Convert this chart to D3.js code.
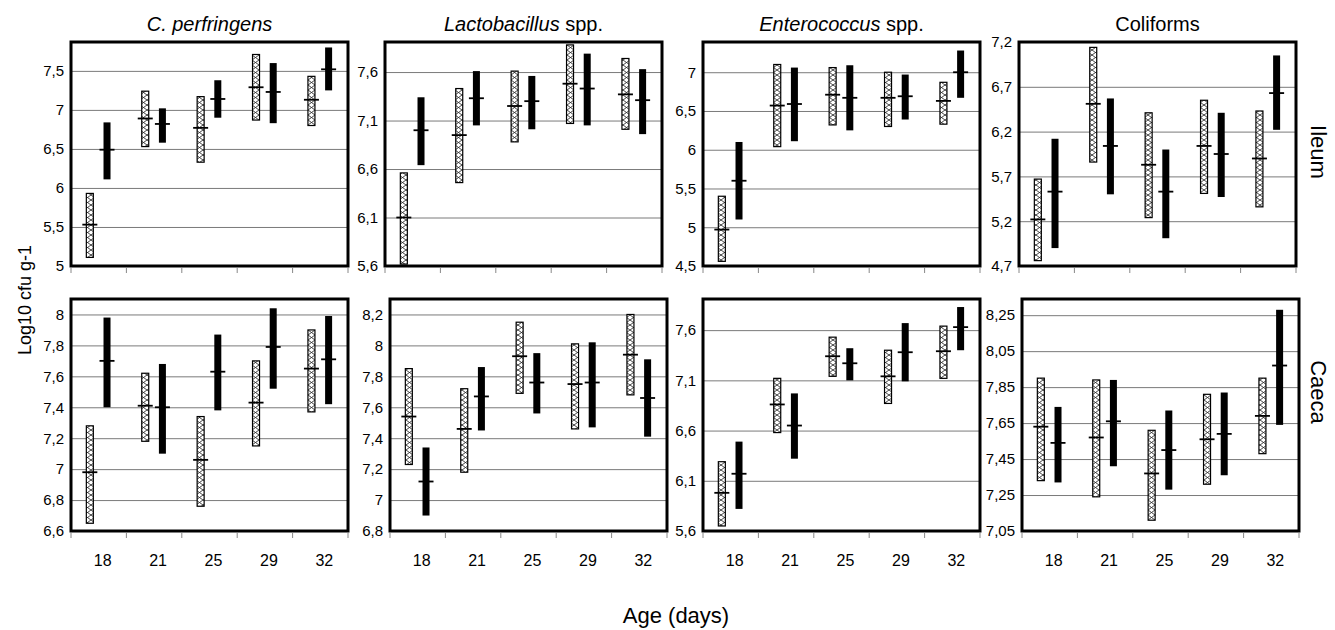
<!DOCTYPE html>
<html>
<head>
<meta charset="utf-8">
<script src="https://cdn.jsdelivr.net/npm/d3@7"></script>
<style>
  body { margin: 0; background: #fff; }
  svg { display: block; }
  text { font-family: "Liberation Sans", Arial, sans-serif; fill: #000; }
</style>
</head>
<body>
<script>
// ages on the x axis, one band each
const ages = ["18", "21", "25", "29", "32"];
const sites = ["Ileum", "Caeca"];

// each entry: [low, mean, high]   A = hatched bar, B = black bar
const perfIleumA = [[5.11, 5.53, 5.93], [6.53, 6.89, 7.24], [6.33, 6.77, 7.17], [6.87, 7.29, 7.71], [6.80, 7.13, 7.43]];
const perfIleumB = [[6.11, 6.49, 6.84], [6.58, 6.82, 7.02], [6.90, 7.14, 7.38], [6.83, 7.23, 7.60], [7.25, 7.52, 7.80]];
const lactoIleumA = [[5.62, 6.10, 6.56], [6.46, 6.95, 7.43], [6.88, 7.25, 7.61], [7.07, 7.48, 7.88], [7.01, 7.37, 7.74]];
const lactoIleumB = [[6.64, 7.00, 7.34], [7.05, 7.33, 7.61], [7.01, 7.30, 7.56], [7.05, 7.43, 7.79], [6.96, 7.31, 7.63]];
const enteroIleumA = [[4.56, 4.97, 5.40], [6.04, 6.57, 7.10], [6.32, 6.71, 7.06], [6.30, 6.67, 7.00], [6.33, 6.63, 6.87]];
const enteroIleumB = [[5.10, 5.60, 6.10], [6.11, 6.59, 7.06], [6.25, 6.67, 7.09], [6.39, 6.69, 6.97], [6.67, 7.00, 7.28]];
const coliIleumA = [[4.76, 5.22, 5.67], [5.86, 6.51, 7.14], [5.24, 5.83, 6.41], [5.51, 6.04, 6.55], [5.36, 5.90, 6.43]];
const coliIleumB = [[4.90, 5.53, 6.12], [5.50, 6.04, 6.57], [5.01, 5.53, 6.00], [5.47, 5.95, 6.41], [6.22, 6.63, 7.05]];

const perfCaecaA = [[6.65, 6.98, 7.28], [7.18, 7.41, 7.62], [6.76, 7.06, 7.34], [7.15, 7.43, 7.70], [7.37, 7.65, 7.90]];
const perfCaecaB = [[7.40, 7.70, 7.98], [7.10, 7.40, 7.68], [7.38, 7.63, 7.87], [7.52, 7.79, 8.04], [7.42, 7.71, 7.99]];
const lactoCaecaA = [[7.23, 7.54, 7.85], [7.18, 7.46, 7.72], [7.69, 7.93, 8.15], [7.46, 7.75, 8.01], [7.68, 7.94, 8.20]];
const lactoCaecaB = [[6.90, 7.12, 7.34], [7.45, 7.67, 7.86], [7.56, 7.76, 7.95], [7.47, 7.76, 8.02], [7.41, 7.66, 7.91]];
const enteroCaecaA = [[5.65, 5.98, 6.29], [6.58, 6.86, 7.12], [7.14, 7.34, 7.53], [6.87, 7.14, 7.40], [7.12, 7.39, 7.64]];
const enteroCaecaB = [[5.82, 6.17, 6.49], [6.32, 6.65, 6.97], [7.10, 7.27, 7.42], [7.09, 7.38, 7.67], [7.40, 7.63, 7.83]];
const coliCaecaA = [[7.33, 7.63, 7.90], [7.24, 7.57, 7.89], [7.11, 7.37, 7.61], [7.31, 7.56, 7.81], [7.48, 7.69, 7.90]];
const coliCaecaB = [[7.32, 7.54, 7.74], [7.41, 7.66, 7.89], [7.28, 7.50, 7.72], [7.36, 7.59, 7.82], [7.64, 7.97, 8.28]];

// y ticks and y domains per panel
const perfIleumTicks = [5, 5.5, 6, 6.5, 7, 7.5];
const lactoIleumTicks = [5.6, 6.1, 6.6, 7.1, 7.6];
const enteroIleumTicks = [4.5, 5, 5.5, 6, 6.5, 7];
const coliIleumTicks = [4.7, 5.2, 5.7, 6.2, 6.7, 7.2];
const perfCaecaTicks = [6.6, 6.8, 7, 7.2, 7.4, 7.6, 7.8, 8];
const lactoCaecaTicks = [6.8, 7, 7.2, 7.4, 7.6, 7.8, 8, 8.2];
const enteroCaecaTicks = [5.6, 6.1, 6.6, 7.1, 7.6];
const coliCaecaTicks = [7.05, 7.25, 7.45, 7.65, 7.85, 8.05, 8.25];

const perfIleumDomain = [5, 7.87];
const lactoIleumDomain = [5.6, 7.91];
const enteroIleumDomain = [4.5, 7.39];
const coliIleumDomain = [4.7, 7.2];
const perfCaecaDomain = [6.6, 8.1];
const lactoCaecaDomain = [6.8, 8.3];
const enteroCaecaDomain = [5.6, 7.91];
const coliCaecaDomain = [7.05, 8.34];

const panels = [
  { row: 0, col: 0, a: perfIleumA, b: perfIleumB, ticks: perfIleumTicks, domain: perfIleumDomain },
  { row: 0, col: 1, a: lactoIleumA, b: lactoIleumB, ticks: lactoIleumTicks, domain: lactoIleumDomain },
  { row: 0, col: 2, a: enteroIleumA, b: enteroIleumB, ticks: enteroIleumTicks, domain: enteroIleumDomain },
  { row: 0, col: 3, a: coliIleumA, b: coliIleumB, ticks: coliIleumTicks, domain: coliIleumDomain },
  { row: 1, col: 0, a: perfCaecaA, b: perfCaecaB, ticks: perfCaecaTicks, domain: perfCaecaDomain },
  { row: 1, col: 1, a: lactoCaecaA, b: lactoCaecaB, ticks: lactoCaecaTicks, domain: lactoCaecaDomain },
  { row: 1, col: 2, a: enteroCaecaA, b: enteroCaecaB, ticks: enteroCaecaTicks, domain: enteroCaecaDomain },
  { row: 1, col: 3, a: coliCaecaA, b: coliCaecaB, ticks: coliCaecaTicks, domain: coliCaecaDomain }
];

// layout
const W = 1335, H = 630;
const panelW = 277;
const lefts = [[71, 385, 703, 1019], [71, 390, 703, 1022]];
const rowsY = [[42, 266], [299, 531]];  // top, bottom

const fmt = v => String(v).replace(".", ",");

const svg = d3.select("body").append("svg")
  .attr("width", W)
  .attr("height", H);

// crosshatch for the open bars
const pat = svg.append("defs").append("pattern")
  .attr("id", "hatch")
  .attr("patternUnits", "userSpaceOnUse")
  .attr("width", 7)
  .attr("height", 10);
pat.append("rect").attr("width", 7).attr("height", 10).attr("fill", "#fff");
pat.append("path")
  .attr("d", "M0,0 L7,5 L0,10 M7,0 L0,5 L7,10")
  .attr("stroke", "#333")
  .attr("stroke-width", 0.9)
  .attr("fill", "none");

panels.forEach(p => {
  const x0 = lefts[p.row][p.col];
  const yTop = rowsY[p.row][0], yBot = rowsY[p.row][1];

  const x = d3.scaleBand().domain(ages).range([x0, x0 + panelW]);
  const y = d3.scaleLinear().domain(p.domain).range([yBot, yTop]);
  const bw = x.bandwidth();

  const g = svg.append("g");

  // grid lines
  g.append("g")
    .attr("transform", `translate(${x0},0)`)
    .call(d3.axisLeft(y).tickValues(p.ticks).tickSize(-panelW).tickFormat(""))
    .call(s => s.select(".domain").remove())
    .call(s => s.selectAll("line").attr("stroke", "#7a7a7a").attr("stroke-width", 1));

  // y tick labels
  g.append("g")
    .attr("transform", `translate(${x0},0)`)
    .call(d3.axisLeft(y).tickValues(p.ticks).tickSize(0).tickPadding(7).tickFormat(fmt))
    .call(s => s.select(".domain").remove())
    .call(s => s.selectAll("text")
      .attr("font-size", 15)
      .attr("font-family", "'Liberation Sans', Arial, sans-serif"));

  // small ticks under the frame at band edges
  g.append("g").selectAll("line")
    .data(d3.range(ages.length + 1))
    .join("line")
    .attr("x1", i => x.range()[0] + i * x.step())
    .attr("x2", i => x.range()[0] + i * x.step())
    .attr("y1", yBot + 2)
    .attr("y2", yBot + 7)
    .attr("stroke", "#888")
    .attr("stroke-width", 1);

  // open (hatched) bars
  const cxA = d => x(ages[d.i]) + bw * 0.34;
  const cxB = d => x(ages[d.i]) + bw * 0.65;
  const dataA = p.a.map((v, i) => ({ i, lo: v[0], mean: v[1], hi: v[2] }));
  const dataB = p.b.map((v, i) => ({ i, lo: v[0], mean: v[1], hi: v[2] }));

  g.append("g").selectAll("rect")
    .data(dataA)
    .join("rect")
    .attr("x", d => cxA(d) - 3.5)
    .attr("y", d => y(d.hi))
    .attr("width", 7)
    .attr("height", d => y(d.lo) - y(d.hi))
    .attr("fill", "url(#hatch)")
    .attr("stroke", "#000")
    .attr("stroke-width", 1.2);

  g.append("g").selectAll("rect")
    .data(dataB)
    .join("rect")
    .attr("x", d => cxB(d) - 3.5)
    .attr("y", d => y(d.hi))
    .attr("width", 7)
    .attr("height", d => y(d.lo) - y(d.hi))
    .attr("fill", "#000");

  // mean marks
  g.append("g").selectAll("line")
    .data(dataA.concat(dataB.map(d => Object.assign({ solid: true }, d))))
    .join("line")
    .attr("x1", d => (d.solid ? cxB(d) : cxA(d)) - 7.5)
    .attr("x2", d => (d.solid ? cxB(d) : cxA(d)) + 7.5)
    .attr("y1", d => y(d.mean))
    .attr("y2", d => y(d.mean))
    .attr("stroke", "#000")
    .attr("stroke-width", 1.8);

  // frame
  g.append("rect")
    .attr("x", x0)
    .attr("y", yTop)
    .attr("width", panelW)
    .attr("height", yBot - yTop)
    .attr("fill", "none")
    .attr("stroke", "#000")
    .attr("stroke-width", 3);

  // age labels on the bottom row only
  if (p.row === 1) {
    g.append("g").selectAll("text")
      .data(ages)
      .join("text")
      .attr("x", d => x(d) + bw / 2 + 4)
      .attr("y", yBot + 35)
      .attr("text-anchor", "middle")
      .attr("font-size", 16)
      .text(d => d);
  }
});

// panel titles
const titles = [
  [{ t: "C. perfringens", it: true }],
  [{ t: "Lactobacillus", it: true }, { t: " spp.", it: false }],
  [{ t: "Enterococcus", it: true }, { t: " spp.", it: false }],
  [{ t: "Coliforms", it: false }]
];
titles.forEach((parts, c) => {
  const tx = svg.append("text")
    .attr("x", lefts[0][c] + panelW / 2)
    .attr("y", 31)
    .attr("text-anchor", "middle")
    .attr("font-size", 20);
  parts.forEach(pt => {
    tx.append("tspan")
      .attr("font-style", pt.it ? "italic" : "normal")
      .text(pt.t);
  });
});

// row labels
sites.forEach((s, r) => {
  const cy = r === 0 ? 152 : 392;
  svg.append("text")
    .attr("transform", `translate(1311,${cy}) rotate(90)`)
    .attr("text-anchor", "middle")
    .attr("font-size", 22)
    .text(s);
});

svg.append("text")
  .attr("transform", "translate(31,300) rotate(-90)")
  .attr("text-anchor", "middle")
  .attr("font-size", 18)
  .text("Log10 cfu g-1");

svg.append("text")
  .attr("x", 676)
  .attr("y", 623)
  .attr("text-anchor", "middle")
  .attr("font-size", 22)
  .text("Age (days)");
</script>
</body>
</html>
